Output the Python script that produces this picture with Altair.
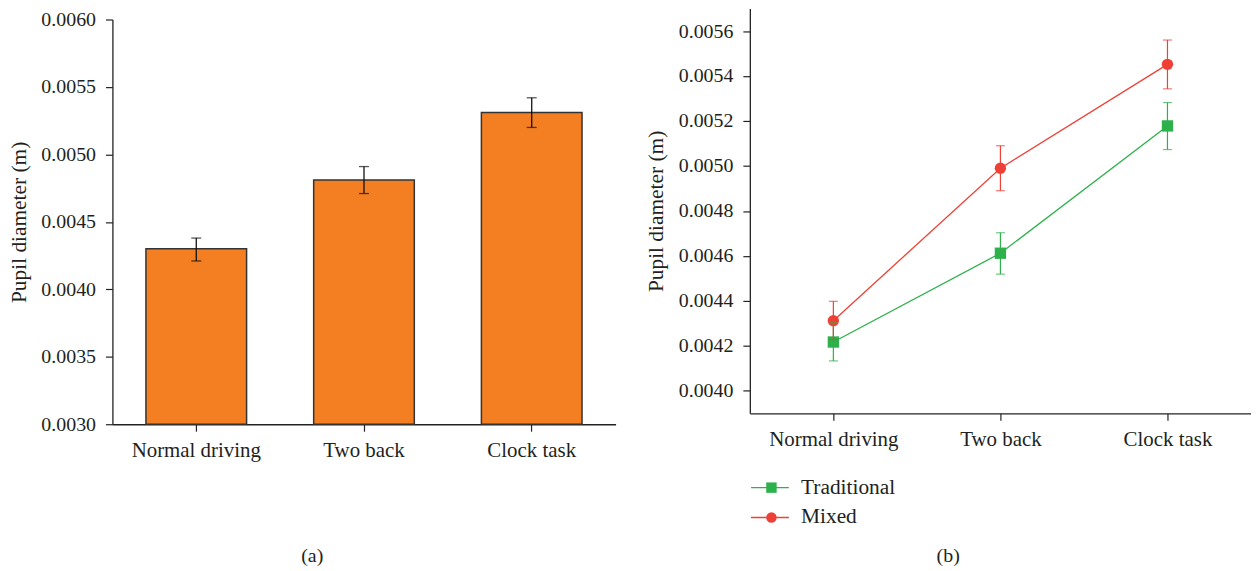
import altair as alt
import pandas as pd

# ---------------- data ----------------
conditions = ["Normal driving", "Two back", "Clock task"]

# panel (a)
bar_means = [0.00430, 0.00481, 0.00531]
bar_low = [0.00421, 0.00471, 0.00520]
bar_high = [0.00438, 0.00491, 0.00542]

# panel (b)
series_names = ["Traditional", "Mixed"]
trad_means = [0.004217, 0.004612, 0.005178]
trad_low = [0.004133, 0.004519, 0.005073]
trad_high = [0.004302, 0.004703, 0.005282]
mixed_means = [0.004312, 0.004990, 0.005452]
mixed_low = [0.004228, 0.004890, 0.005343]
mixed_high = [0.004398, 0.005090, 0.005560]

left_ticks = [0.0030, 0.00325, 0.0035, 0.00375, 0.0040, 0.00425, 0.0045,
              0.00475, 0.0050, 0.00525, 0.0055, 0.00575, 0.0060]
right_ticks = [0.0040, 0.0041, 0.0042, 0.0043, 0.0044, 0.0045, 0.0046,
               0.0047, 0.0048, 0.0049, 0.0050, 0.0051, 0.0052, 0.0053, 0.0054,
               0.0055, 0.0056]

FONT = "Liberation Serif"
ORANGE = "#F47F22"
GREEN = "#2DB14B"
RED = "#EE4036"
TXT = "#231F20"

bar_df = pd.DataFrame({"condition": conditions, "mean": bar_means,
                       "low": bar_low, "high": bar_high})

rows = []
for name, m, lo, hi in [("Traditional", trad_means, trad_low, trad_high),
                        ("Mixed", mixed_means, mixed_low, mixed_high)]:
    for c, a, b, d in zip(conditions, m, lo, hi):
        rows.append({"condition": c, "series": name, "mean": a, "low": b, "high": d})
line_df = pd.DataFrame(rows)

# ---------------- panel (a) ----------------
left_major = "abs(datum.value*2000 - round(datum.value*2000)) < 0.01"
xL = alt.X("condition:N", sort=conditions, title=None,
           scale=alt.Scale(paddingInner=0.4, paddingOuter=0.2),
           axis=alt.Axis(labelAngle=0, tickSize=7, labelPadding=8, labelFontSize=21))
yL_axis = alt.Axis(values=left_ticks, format=".4f", labelOverlap=False,
                   labelExpr=f"{left_major} ? datum.label : ''",
                   tickSize={"condition": {"test": left_major, "value": 7}, "value": 4},
                   labelPadding=10, titlePadding=10, grid=False)
yL_scale = alt.Scale(domain=[0.003, 0.006], zero=False, nice=False)

bars = alt.Chart(bar_df).mark_bar(color=ORANGE, stroke="#333333", strokeWidth=1.5).encode(
    x=xL,
    y=alt.Y("mean:Q", title="Pupil diameter (m)", scale=yL_scale, axis=yL_axis),
    y2=alt.datum(0.003),
)
err_rule = alt.Chart(bar_df).mark_rule(color="#111111", strokeWidth=1.3).encode(
    x=alt.X("condition:N", sort=conditions), y="low:Q", y2="high:Q")
cap_lo = alt.Chart(bar_df).mark_tick(color="#111111", size=10, thickness=1.3).encode(
    x=alt.X("condition:N", sort=conditions), y="low:Q")
cap_hi = alt.Chart(bar_df).mark_tick(color="#111111", size=10, thickness=1.3).encode(
    x=alt.X("condition:N", sort=conditions), y="high:Q")

left = alt.layer(bars, err_rule, cap_lo, cap_hi).properties(
    width=506, height=407,
    title=alt.TitleParams("(a)", orient="bottom", anchor="middle", frame="bounds",
                          offset=87, fontSize=20, font=FONT, fontWeight="normal", color=TXT),
)

# small invisible spacer that lowers panel (a) relative to panel (b)
spacer = alt.Chart(pd.DataFrame({"s": [0]})).mark_point(opacity=0, size=1).properties(
    width=506, height=1)
left_col = alt.vconcat(spacer, left, spacing=0)

# ---------------- panel (b) ----------------
right_major = "abs(datum.value*5000 - round(datum.value*5000)) < 0.01"
xR = alt.X("condition:N", sort=conditions, title=None,
           scale=alt.Scale(type="point", padding=0.5),
           axis=alt.Axis(labelAngle=0, tickSize=7, labelPadding=8, labelFontSize=21))
yR_scale = alt.Scale(domain=[0.0039, 0.0057], zero=False, nice=False)
yR_axis = alt.Axis(values=right_ticks, format=".4f", labelOverlap=False,
                   labelExpr=f"{right_major} ? datum.label : ''",
                   tickSize={"condition": {"test": right_major, "value": 7}, "value": 4},
                   labelPadding=10, titlePadding=11, grid=False)
yR = alt.Y("mean:Q", title="Pupil diameter (m)", scale=yR_scale, axis=yR_axis)

base = alt.Chart(line_df)
col_scale = alt.Scale(domain=series_names, range=[GREEN, RED])
shape_scale = alt.Scale(domain=series_names, range=["square", "circle"])

LEG_Y = 471
pt_legend = alt.Legend(orient="none", legendX=652, legendY=LEG_Y, title=None,
                       symbolSize=110, symbolStrokeWidth=0, labelOffset=19,
                       labelFontSize=21.5, rowPadding=7, padding=0)
pts = base.mark_point(filled=True, size=130, opacity=1).encode(
    x=xR, y=yR,
    color=alt.Color("series:N", scale=col_scale, legend=pt_legend),
    shape=alt.Shape("series:N", scale=shape_scale, legend=pt_legend),
)
lines = base.mark_line(strokeWidth=1.3).encode(
    x=alt.X("condition:N", sort=conditions), y="mean:Q",
    stroke=alt.Stroke("series:N", sort=series_names, scale=alt.Scale(range=[GREEN, RED]),
                      legend=alt.Legend(orient="none", legendX=650.5, legendY=LEG_Y, title=None,
                                        symbolType="M-2,0H2", symbolSize=361,
                                        symbolStrokeWidth=1.5, labelExpr="''", labelOpacity=0,
                                        labelFontSize=21.5, rowPadding=7, padding=0)),
    detail="series:N",
)
r_rule = base.mark_rule(strokeWidth=1.2).encode(
    x=alt.X("condition:N", sort=conditions), y="low:Q", y2="high:Q",
    color=alt.Color("series:N", scale=col_scale, legend=None))
r_cap_lo = base.mark_tick(size=9, thickness=1.2).encode(
    x=alt.X("condition:N", sort=conditions), y="low:Q",
    color=alt.Color("series:N", scale=col_scale, legend=None))
r_cap_hi = base.mark_tick(size=9, thickness=1.2).encode(
    x=alt.X("condition:N", sort=conditions), y="high:Q",
    color=alt.Color("series:N", scale=col_scale, legend=None))

right = alt.layer(pts, lines, r_rule, r_cap_lo, r_cap_hi).properties(
    width=504, height=407,
    title=alt.TitleParams("(b)", orient="bottom", anchor="middle", frame="bounds",
                          offset=98, fontSize=20, font=FONT, fontWeight="normal", color=TXT),
)

chart = alt.hconcat(left_col, right, spacing=30).properties(
    padding={"top": -1, "left": 1, "right": 0, "bottom": 0}
).configure_view(stroke=None).configure_axis(
    labelFont=FONT, labelFontSize=20, labelColor=TXT,
    titleFont=FONT, titleFontSize=21.5, titleFontWeight="normal", titleColor=TXT,
    domainColor="#222222", tickColor="#222222", domainWidth=1.3, tickWidth=1.2,
).configure_legend(
    labelFont=FONT, labelFontSize=21.5, labelColor=TXT,
)

chart.save("out.html", embed_options={"renderer": "svg", "actions": False})
